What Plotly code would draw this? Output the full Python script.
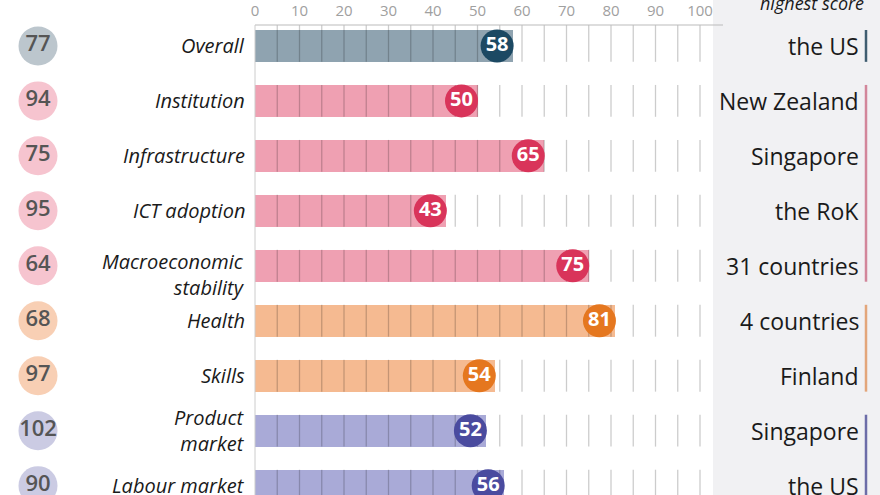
import plotly.graph_objects as go

# ---------------- data ----------------
categories = ["Overall", "Institution", "Infrastructure", "ICT adoption",
              "Macroeconomic<br>stability", "Health", "Skills",
              "Product<br>market", "Labour market"]
ranks = [77, 94, 75, 95, 64, 68, 97, 102, 90]
scores = [58, 50, 65, 43, 75, 81, 54, 52, 56]
highest = ["the US", "New Zealand", "Singapore", "the RoK", "31 countries",
           "4 countries", "Finland", "Singapore", "the US"]
groups = ["overall", "pink", "pink", "pink", "pink", "orange", "orange",
          "purple", "purple"]
tick_vals = list(range(0, 101, 10))
grid_vals = list(range(5, 101, 5))

# ---------------- styles ----------------
bar_col = {"overall": "#8fa3b0", "pink": "#efa0b2", "orange": "#f5ba91", "purple": "#a9aad7"}
dot_col = {"overall": "#1c4963", "pink": "#d9345a", "orange": "#e5771f", "purple": "#4a4b9f"}
rank_col = {"overall": "#bcc6cd", "pink": "#f6c4cf", "orange": "#f8cfb4", "purple": "#cbcbe3"}
line_col = {"overall": "#3f5d70", "pink": "#d2869a", "orange": "#e3a67a", "purple": "#6c6da8"}
label_yshift = {4: -9}   # first line of "Macroeconomic stability" sits on the bar row

W, H = 880, 495
X0_PX, SCALE = 255, 4.45          # pixel of value 0, pixels per unit
TOP_PX = 23                       # axis line pixel
ROW0_PX, ROW_STEP = 44, 55.2
BAR_W = 0.58


def px2x(p):
    return (p - X0_PX) / SCALE


y_top = (TOP_PX - ROW0_PX) / ROW_STEP
y_bot = (H - ROW0_PX) / ROW_STEP
n = len(categories)
ys = list(range(n))

fig = go.Figure()

# right panel background
fig.add_shape(type="rect", xref="paper", yref="paper", x0=713 / W, x1=1, y0=0, y1=1.1,
              fillcolor="#f1f1f3", line_width=0, layer="below")

# bars
fig.add_trace(go.Bar(y=ys, x=scores, orientation="h", width=BAR_W,
                     marker=dict(color=[bar_col[g] for g in groups], line_width=0),
                     hoverinfo="skip"))

# grid segments per row
gx, gy = [], []
for i in ys:
    top = y_top if i == 0 else i - BAR_W / 2
    for v in grid_vals:
        gx += [v, v, None]
        gy += [top, i + BAR_W / 2, None]
fig.add_trace(go.Scatter(x=gx, y=gy, mode="lines",
                         line=dict(color="rgba(0,0,0,0.2)", width=1.3),
                         hoverinfo="skip"))

# value circles
r_units = 16 / SCALE
fig.add_trace(go.Scatter(
    x=[s - r_units for s in scores], y=ys, mode="markers+text",
    marker=dict(size=33, color=[dot_col[g] for g in groups], line_width=0),
    text=[str(s) for s in scores], textposition="middle center",
    textfont=dict(family="Open Sans", size=20, color="white", weight=700),
    hoverinfo="skip"))

# rank circles
fig.add_trace(go.Scatter(
    x=[px2x(38)] * n, y=ys, mode="markers+text",
    marker=dict(size=39, color=[rank_col[g] for g in groups], line_width=0),
    text=[str(r) for r in ranks], textposition="middle center",
    textfont=dict(family="Open Sans", size=22, color="#555555", weight=600),
    hoverinfo="skip"))

# category labels
for i, c in enumerate(categories):
    fig.add_annotation(x=px2x(247), y=i, text="<i>" + c + "</i>", showarrow=False,
                       xanchor="right", yanchor="middle", align="right",
                       yshift=label_yshift.get(i, 0),
                       font=dict(family="Open Sans", size=20, color="#1a1a1a"))

# highest-score country labels
for i, c in enumerate(highest):
    fig.add_annotation(x=px2x(861), y=i, text=c, showarrow=False,
                       xanchor="right", yanchor="middle",
                       font=dict(family="Open Sans", size=23, color="#1a1a1a"))

# group bars at right
start = 0
for i in range(1, n + 1):
    if i == n or groups[i] != groups[start]:
        fig.add_shape(type="line", x0=px2x(866), x1=px2x(866),
                      y0=start - BAR_W / 2, y1=i - 1 + BAR_W / 2,
                      line=dict(color=line_col[groups[start]], width=2.5))
        start = i

fig.add_annotation(xref="paper", yref="paper", x=866 / W, y=(H - 1) / (H - TOP_PX),
                   text="<i>highest score</i>", showarrow=False, xanchor="right",
                   yanchor="middle", font=dict(family="Open Sans", size=18, color="#1a1a1a"))

# axis lines
fig.add_shape(type="line", x0=0, x1=px2x(723), yref="paper", y0=1, y1=1,
              line=dict(color="#bbbbbb", width=1))
fig.add_shape(type="line", x0=0, x1=0, yref="paper", y0=0, y1=1,
              line=dict(color="#cccccc", width=1))

fig.update_layout(
    width=W, height=H, showlegend=False,
    margin=dict(l=0, r=0, t=TOP_PX, b=0),
    paper_bgcolor="white", plot_bgcolor="rgba(0,0,0,0)",
    bargap=0,
    xaxis=dict(range=[px2x(0), px2x(W)], side="top", tickvals=tick_vals,
               showgrid=False, zeroline=False, showline=False, ticks="",
               ticklabelstandoff=5,
               tickfont=dict(family="Open Sans", size=15, color="#a0a0a0")),
    yaxis=dict(range=[y_bot, y_top], showgrid=False, zeroline=False,
               showticklabels=False, showline=False),
)

fig.write_html("out.html", config={"displayModeBar": False},
               post_script="document.body.style.margin='0';document.body.style.padding='0';")
